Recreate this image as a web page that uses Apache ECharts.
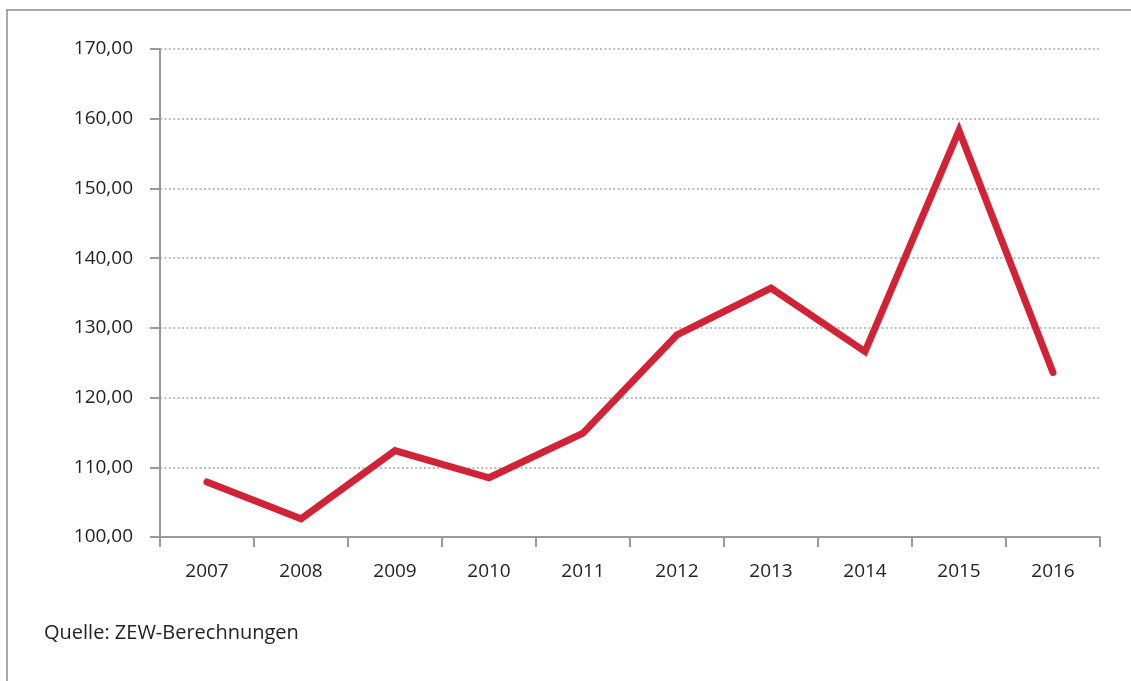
<!DOCTYPE html>
<html>
<head>
<meta charset="utf-8">
<script src="https://cdn.jsdelivr.net/npm/echarts@6/dist/echarts.min.js"></script>
<style>
html,body{margin:0;padding:0;background:#fff;}
#c{width:1131px;height:681px;}
</style>
</head>
<body>
<div id="c"></div>
<script>
const years = ['2007','2008','2009','2010','2011','2012','2013','2014','2015','2016'];
const values = [107.9, 102.6, 112.4, 108.5, 114.9, 129.0, 135.7, 126.6, 158.3, 123.6];
const yTicks = [100, 110, 120, 130, 140, 150, 160, 170];
const sourceText = 'Quelle: ZEW-Berechnungen';

const chart = echarts.init(document.getElementById('c'));
const font = 'Open Sans, Lato, sans-serif';
chart.setOption({
  animation: false,
  backgroundColor: '#fff',
  grid: { left: 160, right: 31, top: 49, bottom: 144 },
  xAxis: {
    type: 'category',
    data: years,
    boundaryGap: true,
    axisLine: { lineStyle: { color: '#9a9a9a', width: 2 } },
    axisTick: { show: true, length: 10, lineStyle: { color: '#9a9a9a', width: 2 }, alignWithLabel: false },
    axisLabel: { color: '#222', fontSize: 19, fontFamily: font, margin: 25 },
    splitLine: { show: false }
  },
  yAxis: {
    type: 'value',
    min: yTicks[0],
    max: yTicks[yTicks.length - 1],
    interval: 10,
    axisLine: { show: true, lineStyle: { color: '#9a9a9a', width: 2 } },
    axisTick: { show: true, length: 10, lineStyle: { color: '#9a9a9a', width: 2 } },
    axisLabel: {
      color: '#222', fontSize: 19, fontFamily: font, margin: 27,
      formatter: v => v.toFixed(2).replace('.', ',')
    },
    splitLine: { show: true, lineStyle: { color: '#bdbdbd', width: 2, type: [2, 2.4] } }
  },
  series: [{
    type: 'line',
    data: values,
    symbol: 'none',
    lineStyle: { color: '#d22236', width: 7, cap: 'round', join: 'miter' },
    itemStyle: { color: '#d22236' }
  }],
  graphic: [
    { type: 'line', shape: { x1: 6, y1: 10, x2: 1131, y2: 10 }, style: { stroke: '#8c8c8c', lineWidth: 1.5 } },
    { type: 'line', shape: { x1: 7, y1: 10, x2: 7, y2: 681 }, style: { stroke: '#8c8c8c', lineWidth: 1.5 } },
    { type: 'text', left: 44, top: 623, style: { text: sourceText, fill: '#222', font: '20px ' + font } }
  ]
});
</script>
</body>
</html>
